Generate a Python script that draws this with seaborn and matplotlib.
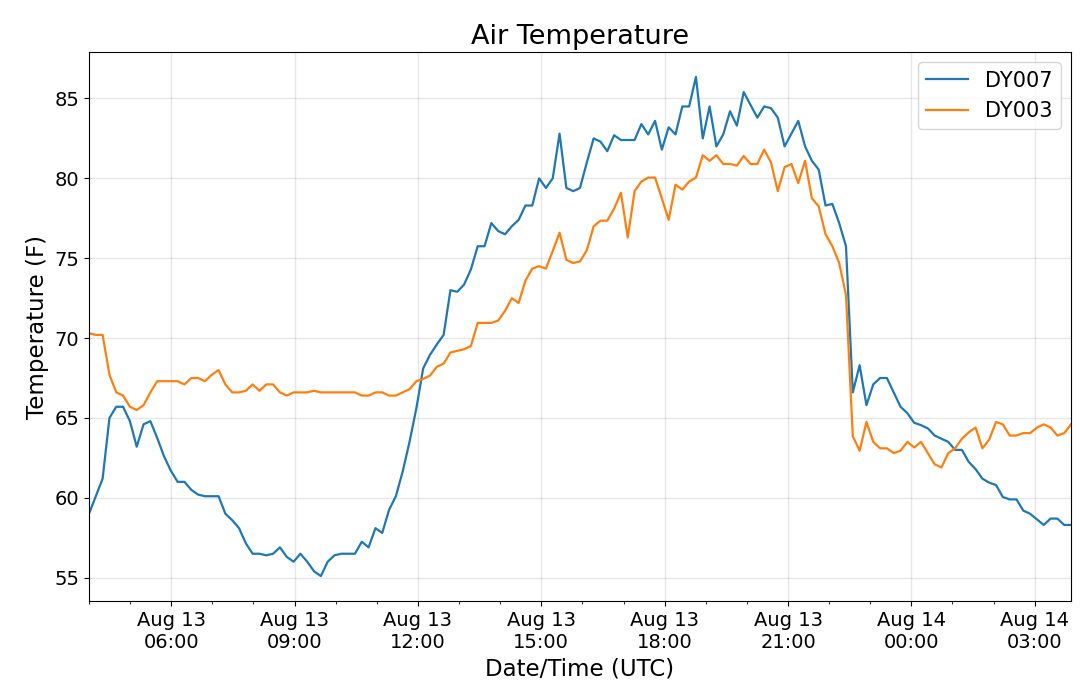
import matplotlib
matplotlib.use("Agg")
import matplotlib.pyplot as plt
import matplotlib.dates as mdates
import pandas as pd
import seaborn as sns

# ---- data (~10-minute samples) ----
start_time = "2019-08-13 04:00"
end_time = "2019-08-14 03:53"

dy007 = [
    59.0, 60.1, 61.2, 65.0, 65.7, 65.7, 64.8, 63.2, 64.6, 64.8,
    63.75, 62.6, 61.7, 61.0, 61.0, 60.5, 60.2, 60.1, 60.1, 60.1,
    59.0, 58.6, 58.1, 57.15, 56.5, 56.5, 56.4, 56.5, 56.9, 56.3,
    56.0, 56.5, 56.0, 55.4, 55.1, 56.0, 56.4, 56.5, 56.5, 56.5,
    57.25, 56.9, 58.1, 57.8, 59.25, 60.1, 61.65, 63.5, 65.6, 68.1,
    68.95, 69.6, 70.2, 73.0, 72.9, 73.35, 74.3, 75.75, 75.75, 77.2,
    76.7, 76.5, 77.0, 77.4, 78.3, 78.3, 80.0, 79.4, 80.0, 82.8,
    79.4, 79.2, 79.4, 81.0, 82.5, 82.3, 81.7, 82.7, 82.4, 82.4,
    82.4, 83.4, 82.75, 83.6, 81.8, 83.2, 82.75, 84.5, 84.5, 86.35,
    82.5, 84.5, 82.0, 82.75, 84.2, 83.3, 85.4, 84.6, 83.8, 84.5,
    84.4, 83.8, 82.0, 82.8, 83.6, 82.0, 81.1, 80.55, 78.3, 78.4,
    77.2, 75.75, 66.6, 68.3, 65.8, 67.1, 67.5, 67.5, 66.6, 65.7,
    65.3, 64.7, 64.55, 64.35, 63.9, 63.7, 63.5, 63.0, 63.0, 62.25,
    61.8, 61.2, 60.95, 60.8, 60.05, 59.9, 59.9, 59.2, 59.0, 58.65,
    58.3, 58.7, 58.7, 58.3, 58.3,
]

dy003 = [
    70.3, 70.2, 70.2, 67.7, 66.6, 66.4, 65.7, 65.5, 65.8, 66.6,
    67.3, 67.3, 67.3, 67.3, 67.1, 67.5, 67.5, 67.3, 67.7, 68.0,
    67.1, 66.6, 66.6, 66.7, 67.1, 66.7, 67.1, 67.1, 66.6, 66.4,
    66.6, 66.6, 66.6, 66.7, 66.6, 66.6, 66.6, 66.6, 66.6, 66.6,
    66.4, 66.4, 66.6, 66.6, 66.4, 66.4, 66.6, 66.8, 67.3, 67.45,
    67.65, 68.2, 68.4, 69.1, 69.2, 69.3, 69.5, 70.95, 70.95, 70.95,
    71.1, 71.7, 72.5, 72.2, 73.6, 74.35, 74.5, 74.35, 75.45, 76.6,
    74.9, 74.7, 74.8, 75.5, 77.0, 77.35, 77.35, 78.1, 79.1, 76.3,
    79.2, 79.8, 80.05, 80.05, 78.75, 77.4, 79.6, 79.3, 79.8, 80.05,
    81.45, 81.1, 81.45, 80.9, 80.9, 80.8, 81.4, 80.9, 80.9, 81.8,
    81.0, 79.2, 80.7, 80.9, 79.7, 81.1, 78.75, 78.25, 76.5, 75.75,
    74.7, 72.7, 63.85, 62.95, 64.75, 63.5, 63.1, 63.1, 62.8, 62.95,
    63.5, 63.15, 63.5, 62.8, 62.1, 61.9, 62.8, 63.1, 63.7, 64.1,
    64.4, 63.1, 63.65, 64.75, 64.6, 63.9, 63.9, 64.05, 64.05, 64.4,
    64.6, 64.4, 63.9, 64.05, 64.6,
]

series_names = ["DY007", "DY003"]
series_colors = ["#1f77b4", "#ff7f0e"]

times = pd.date_range(start_time, end_time, periods=len(dy007))

fig, ax = plt.subplots(figsize=(10.8, 6.93), dpi=100)
fig.subplots_adjust(left=0.0824, right=0.9917, bottom=0.1327, top=0.925)

for name, vals, col in zip(series_names, [dy007, dy003], series_colors):
    sns.lineplot(x=times, y=vals, ax=ax, color=col, linewidth=1.6, label=name)

ax.set_xlim(times[0], times[-1])
ax.xaxis.set_major_locator(mdates.HourLocator(byhour=range(0, 24, 3)))
ax.xaxis.set_minor_locator(mdates.HourLocator())
ax.xaxis.set_major_formatter(mdates.DateFormatter("%b %d\n%H:%M"))

ax.grid(True, which="major", color="#b0b0b0", alpha=0.3, linewidth=1.0)
ax.tick_params(axis="both", which="major", labelsize=14)

ax.set_title("Air Temperature", fontsize=19.5)
ax.set_xlabel("Date/Time (UTC)", fontsize=16.5)
ax.set_ylabel("Temperature (F)", fontsize=16.5)
ax.legend(loc="upper right", fontsize=15)

fig.savefig("out.png", dpi=100)
